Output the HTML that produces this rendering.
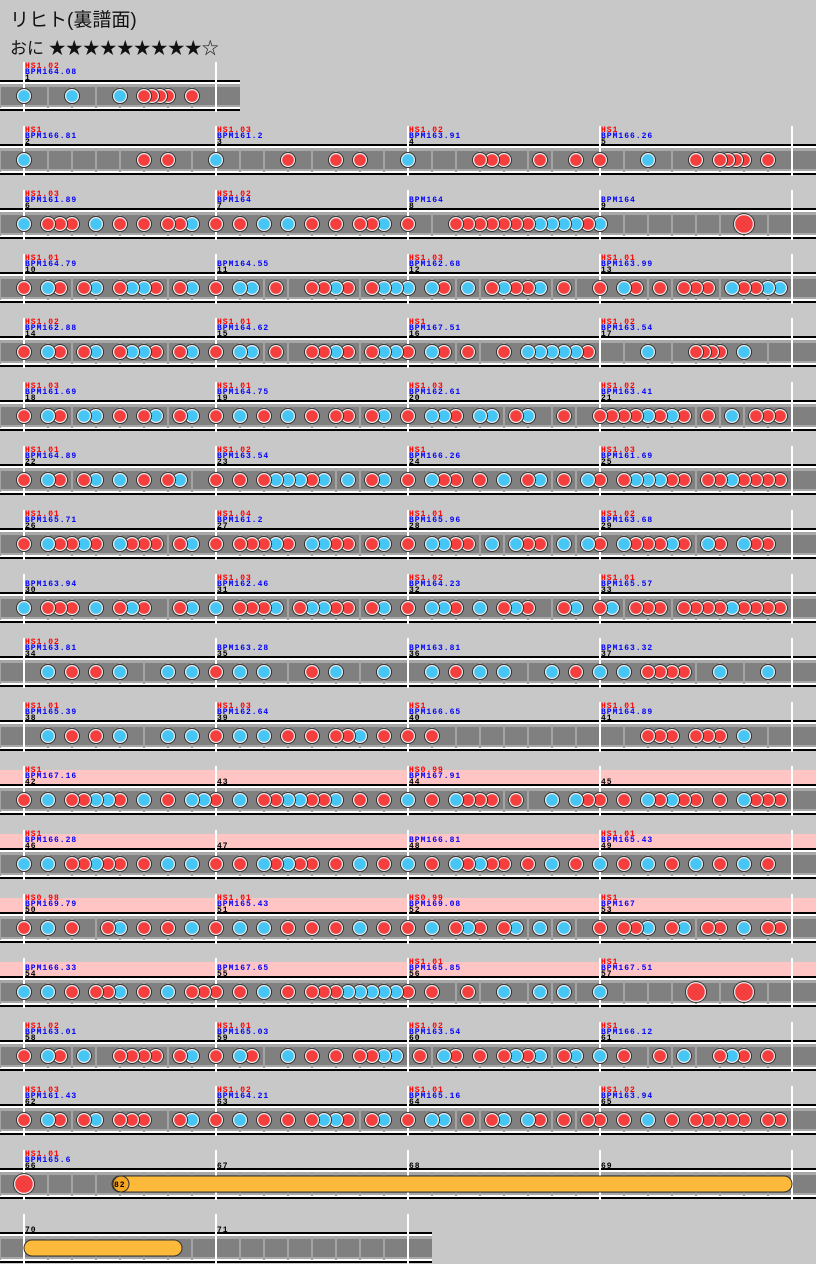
<!DOCTYPE html>
<html><head><meta charset="utf-8">
<style>
html,body{margin:0;padding:0;background:#c8c8c8;width:816px;height:1264px;overflow:hidden}
svg{display:block}
.t{font-family:"Liberation Mono",monospace;font-size:8px;font-weight:bold;letter-spacing:1px}
</style></head>
<body>
<svg id="s" width="816" height="1264" xmlns="http://www.w3.org/2000/svg">
<text x="10" y="26" font-family="'Liberation Sans','Noto Sans CJK JP',sans-serif" font-size="19" fill="#111">リヒト(裏譜面)</text>
<text x="10" y="54" font-family="'Liberation Sans','Noto Sans CJK JP',sans-serif" font-size="17" fill="#111">おに ★★★★★★★★★☆</text>
</svg>
<script>
const S=document.getElementById('s');const NS='http://www.w3.org/2000/svg';
function el(t,a,txt){const e=document.createElementNS(NS,t);for(const k in a)e.setAttribute(k,a[k]);if(txt!==undefined)e.textContent=txt;S.appendChild(e);return e;}
const H=[
[["HS1.02","BPM164.08","1"]],
[["HS1","BPM166.81","2"],["HS1.03","BPM161.2","3"],["HS1.02","BPM163.91","4"],["HS1","BPM166.26","5"]],
[["HS1.03","BPM161.89","6"],["HS1.02","BPM164","7"],["","BPM164","8"],["","BPM164","9"]],
[["HS1.01","BPM164.79","10"],["","BPM164.55","11"],["HS1.03","BPM162.68","12"],["HS1.01","BPM163.99","13"]],
[["HS1.02","BPM162.88","14"],["HS1.01","BPM164.62","15"],["HS1","BPM167.51","16"],["HS1.02","BPM163.54","17"]],
[["HS1.03","BPM161.69","18"],["HS1.01","BPM164.75","19"],["HS1.03","BPM162.61","20"],["HS1.02","BPM163.41","21"]],
[["HS1.01","BPM164.89","22"],["HS1.02","BPM163.54","23"],["HS1","BPM166.26","24"],["HS1.03","BPM161.69","25"]],
[["HS1.01","BPM165.71","26"],["HS1.04","BPM161.2","27"],["HS1.01","BPM165.96","28"],["HS1.02","BPM163.68","29"]],
[["","BPM163.94","30"],["HS1.03","BPM162.46","31"],["HS1.02","BPM164.23","32"],["HS1.01","BPM165.57","33"]],
[["HS1.02","BPM163.81","34"],["","BPM163.28","35"],["","BPM163.81","36"],["","BPM163.32","37"]],
[["HS1.01","BPM165.39","38"],["HS1.03","BPM162.64","39"],["HS1","BPM166.65","40"],["HS1.01","BPM164.89","41"]],
[["HS1","BPM167.16","42"],["","","43"],["HS0.99","BPM167.91","44"],["","","45"]],
[["HS1","BPM166.28","46"],["","","47"],["","BPM166.81","48"],["HS1.01","BPM165.43","49"]],
[["HS0.98","BPM169.79","50"],["HS1.01","BPM165.43","51"],["HS0.99","BPM169.08","52"],["HS1","BPM167","53"]],
[["","BPM166.33","54"],["","BPM167.65","55"],["HS1.01","BPM165.85","56"],["HS1","BPM167.51","57"]],
[["HS1.02","BPM163.01","58"],["HS1.01","BPM165.03","59"],["HS1.02","BPM163.54","60"],["HS1","BPM166.12","61"]],
[["HS1.03","BPM161.43","62"],["HS1.02","BPM164.21","63"],["HS1.01","BPM165.16","64"],["HS1.02","BPM163.94","65"]],
[["HS1.01","BPM165.6","66"],["","","67"],["","","68"],["","","69"]],
[["","","70"],["","","71"]]];
const N=[
"b24 b72 b120 r144 r152 r160 r168 r192",
"b24 r144 r168 b216 r288 r336 r360 b408 r480 r492 r504 r540 r576 r600 b648 r696 r720 r728 r736 r744 r768",
"b24 r48 r60 r72 b96 r120 r144 r168 r180 b192 r216 r240 b264 b288 r312 r336 r360 r372 b384 r408 r456 r468 r480 r492 r504 r516 r528 b540 b552 b564 b576 r588 b600 R744",
"r24 b48 r60 r84 b96 r120 b132 b144 r156 r180 b192 r216 b240 b252 r276 r312 r324 b336 r348 r372 b384 b396 b408 b432 r444 b468 r492 b504 r516 r528 b540 r564 r600 b624 r636 r660 r684 r696 r708 b732 r744 r756 b768 b780",
"r24 b48 r60 r84 b96 r120 b132 b144 r156 r180 b192 r216 b240 b252 r276 r312 r324 b336 r348 r372 b384 b396 r408 b432 r444 r468 r504 b528 b540 b552 b564 b576 r588 b648 r696 r704 r712 r720 b744",
"r24 b48 r60 b84 b96 r120 r144 b156 r180 b192 r216 b240 r264 b288 r312 r336 r348 r372 b384 r408 b432 b444 r456 b480 b492 r516 b528 r564 r600 r612 r624 r636 b648 r660 b672 r684 r708 b732 r756 r768 r780",
"r24 b48 r60 r84 b96 b120 r144 r168 b180 r216 r240 r264 b276 b288 b300 r312 b324 b348 r372 b384 r408 b432 r444 r456 r480 b504 r528 b540 r564 b588 r600 r624 b636 b648 b660 r672 r684 r708 r720 b732 r744 r756 r768 r780",
"r24 b48 r60 r72 b84 r96 b120 r132 r144 r156 r180 b192 r216 r240 r252 r264 b276 r288 b312 b324 r336 r348 r372 b384 r408 b432 b444 r456 r468 b492 b516 r528 r540 b564 b588 r600 b624 r636 r648 r660 b672 r684 b708 r720 b744 r756 r768",
"b24 r48 r60 r72 b96 r120 b132 r144 r180 b192 b216 r240 r252 r264 b276 r300 b312 b324 r336 r348 r372 b384 r408 b432 b444 r456 b480 r504 b516 r528 r564 b576 r600 b612 r636 r648 r660 r684 r696 r708 r720 b732 r744 r756 r768 r780",
"b48 r72 r96 b120 b168 b192 r216 b240 b264 r312 b336 b384 b432 r456 b480 b504 b552 r576 b600 b624 r648 r660 r672 r684 b720 b768",
"b48 r72 r96 b120 b168 b192 r216 b240 b264 r288 r312 r336 r348 b360 r384 r408 r432 r648 r660 r672 r696 r708 r720 b744",
"r24 b48 r72 r84 b96 b108 r120 b144 r168 b192 b204 r216 b240 r264 r276 b288 b300 r312 r324 b336 r360 r384 b408 r432 b456 r468 r480 r492 r516 b552 b576 r588 r600 r624 b648 r660 b672 r684 r696 r720 b744 r756 r768 r780",
"b24 b48 r72 r84 b96 r108 r120 r144 b168 b192 r216 r240 b264 r276 b288 r300 r312 r336 b360 r384 b408 r432 b456 r468 b480 r492 r504 r528 b552 r576 b600 r624 b648 r672 b696 r720 b744 r768",
"r24 b48 r72 r108 b120 r144 r168 b192 r216 b240 b264 r288 r312 r336 b360 r384 r408 b432 r456 b468 r480 r504 b516 b540 b564 r600 r624 r636 b648 r672 b684 r708 r720 b744 r768 r780",
"b24 b48 r72 r96 r108 b120 r144 b168 r192 r204 r216 r240 b264 r288 r312 r324 r336 b348 b360 b372 b384 b396 r408 r432 r468 b504 b540 b564 b600 R696 R744",
"r24 b48 r60 b84 r120 r132 r144 r156 r180 b192 r216 b240 r252 b288 r312 r336 r360 r372 b384 b396 r420 b444 r456 r480 r504 b516 r528 b540 r564 b576 b600 r624 r660 b684 r720 b732 r744 r768",
"r24 b48 r60 r84 b96 r120 r132 r144 r180 b192 r216 b240 r264 r288 r312 b324 b336 r348 r372 b384 r408 b432 b444 r468 r492 b504 b528 r540 r564 r588 r600 r624 b648 r672 r696 r708 r720 r732 r744 r768 r780",
"R24","" ];
const pink=[11,12,13,14];
for(let i=0;i<19;i++){
  const top=60+64*i;
  const W=i==0?240:(i==18?432:816);
  const nm=H[i].length;
  if(pink.includes(i)) el('rect',{x:0,y:top+6,width:816,height:14,fill:'#ffc4c4'});
  el('rect',{x:0,y:top+20,width:W,height:2,fill:'#000'});
  el('rect',{x:0,y:top+22,width:W,height:2,fill:'#fff'});
  el('rect',{x:0,y:top+24,width:W,height:24,fill:'#a8a8a8'});
  el('rect',{x:0,y:top+27,width:W,height:18,fill:'#808080'});
  el('rect',{x:0,y:top+47,width:W,height:2,fill:'#fff'});
  el('rect',{x:0,y:top+49,width:W,height:2,fill:'#000'});
  for(let x=0;x<W;x+=24){ if((x-24)%192==0)continue; el('rect',{x:x-1,y:top+24,width:2,height:24,fill:'#a4a4a4'});}
  for(let m=0;m<=nm;m++){const x=24+192*m; if(x>W)break;
    el('rect',{x:x-1,y:top+2,width:2,height:50,fill:'#fff'});}
  H[i].forEach((h,m)=>{const x=25+192*m;
    if(h[0])el('text',{x:x,y:top+8,class:'t',fill:'#f00'},h[0]);
    if(h[1])el('text',{x:x,y:top+14,class:'t',fill:'#00f'},h[1]);
    el('text',{x:x,y:top+20,class:'t',fill:'#000'},h[2]);});
  const cy=top+36;
  if(i==17){el('rect',{x:112,y:cy-8,width:680,height:16,rx:8,fill:'#fdb93a',stroke:'#333','stroke-width':1});
    el('circle',{cx:121,cy:cy,r:8,fill:'#f5a623',stroke:'#333'});
    el('text',{x:114,y:cy+3,class:'t',fill:'#000'},'82');}
  if(i==18){el('rect',{x:24,y:cy-8,width:158,height:16,rx:8,fill:'#fdb93a',stroke:'#333','stroke-width':1});}
  const toks=N[i]?N[i].split(' ').reverse():[];
  toks.forEach(t=>{const c=t[0],x=+t.slice(1);const big=c=='R';
    const col=(c=='b')?'#45c6f5':'#f53f3f';const r=big?11:8;
    el('circle',{cx:x,cy:cy,r:r,fill:'#333'});
    el('circle',{cx:x,cy:cy,r:r-1,fill:'#eee'});
    el('circle',{cx:x,cy:cy,r:r-2.2,fill:col});});
}
</script>
</body></html>
